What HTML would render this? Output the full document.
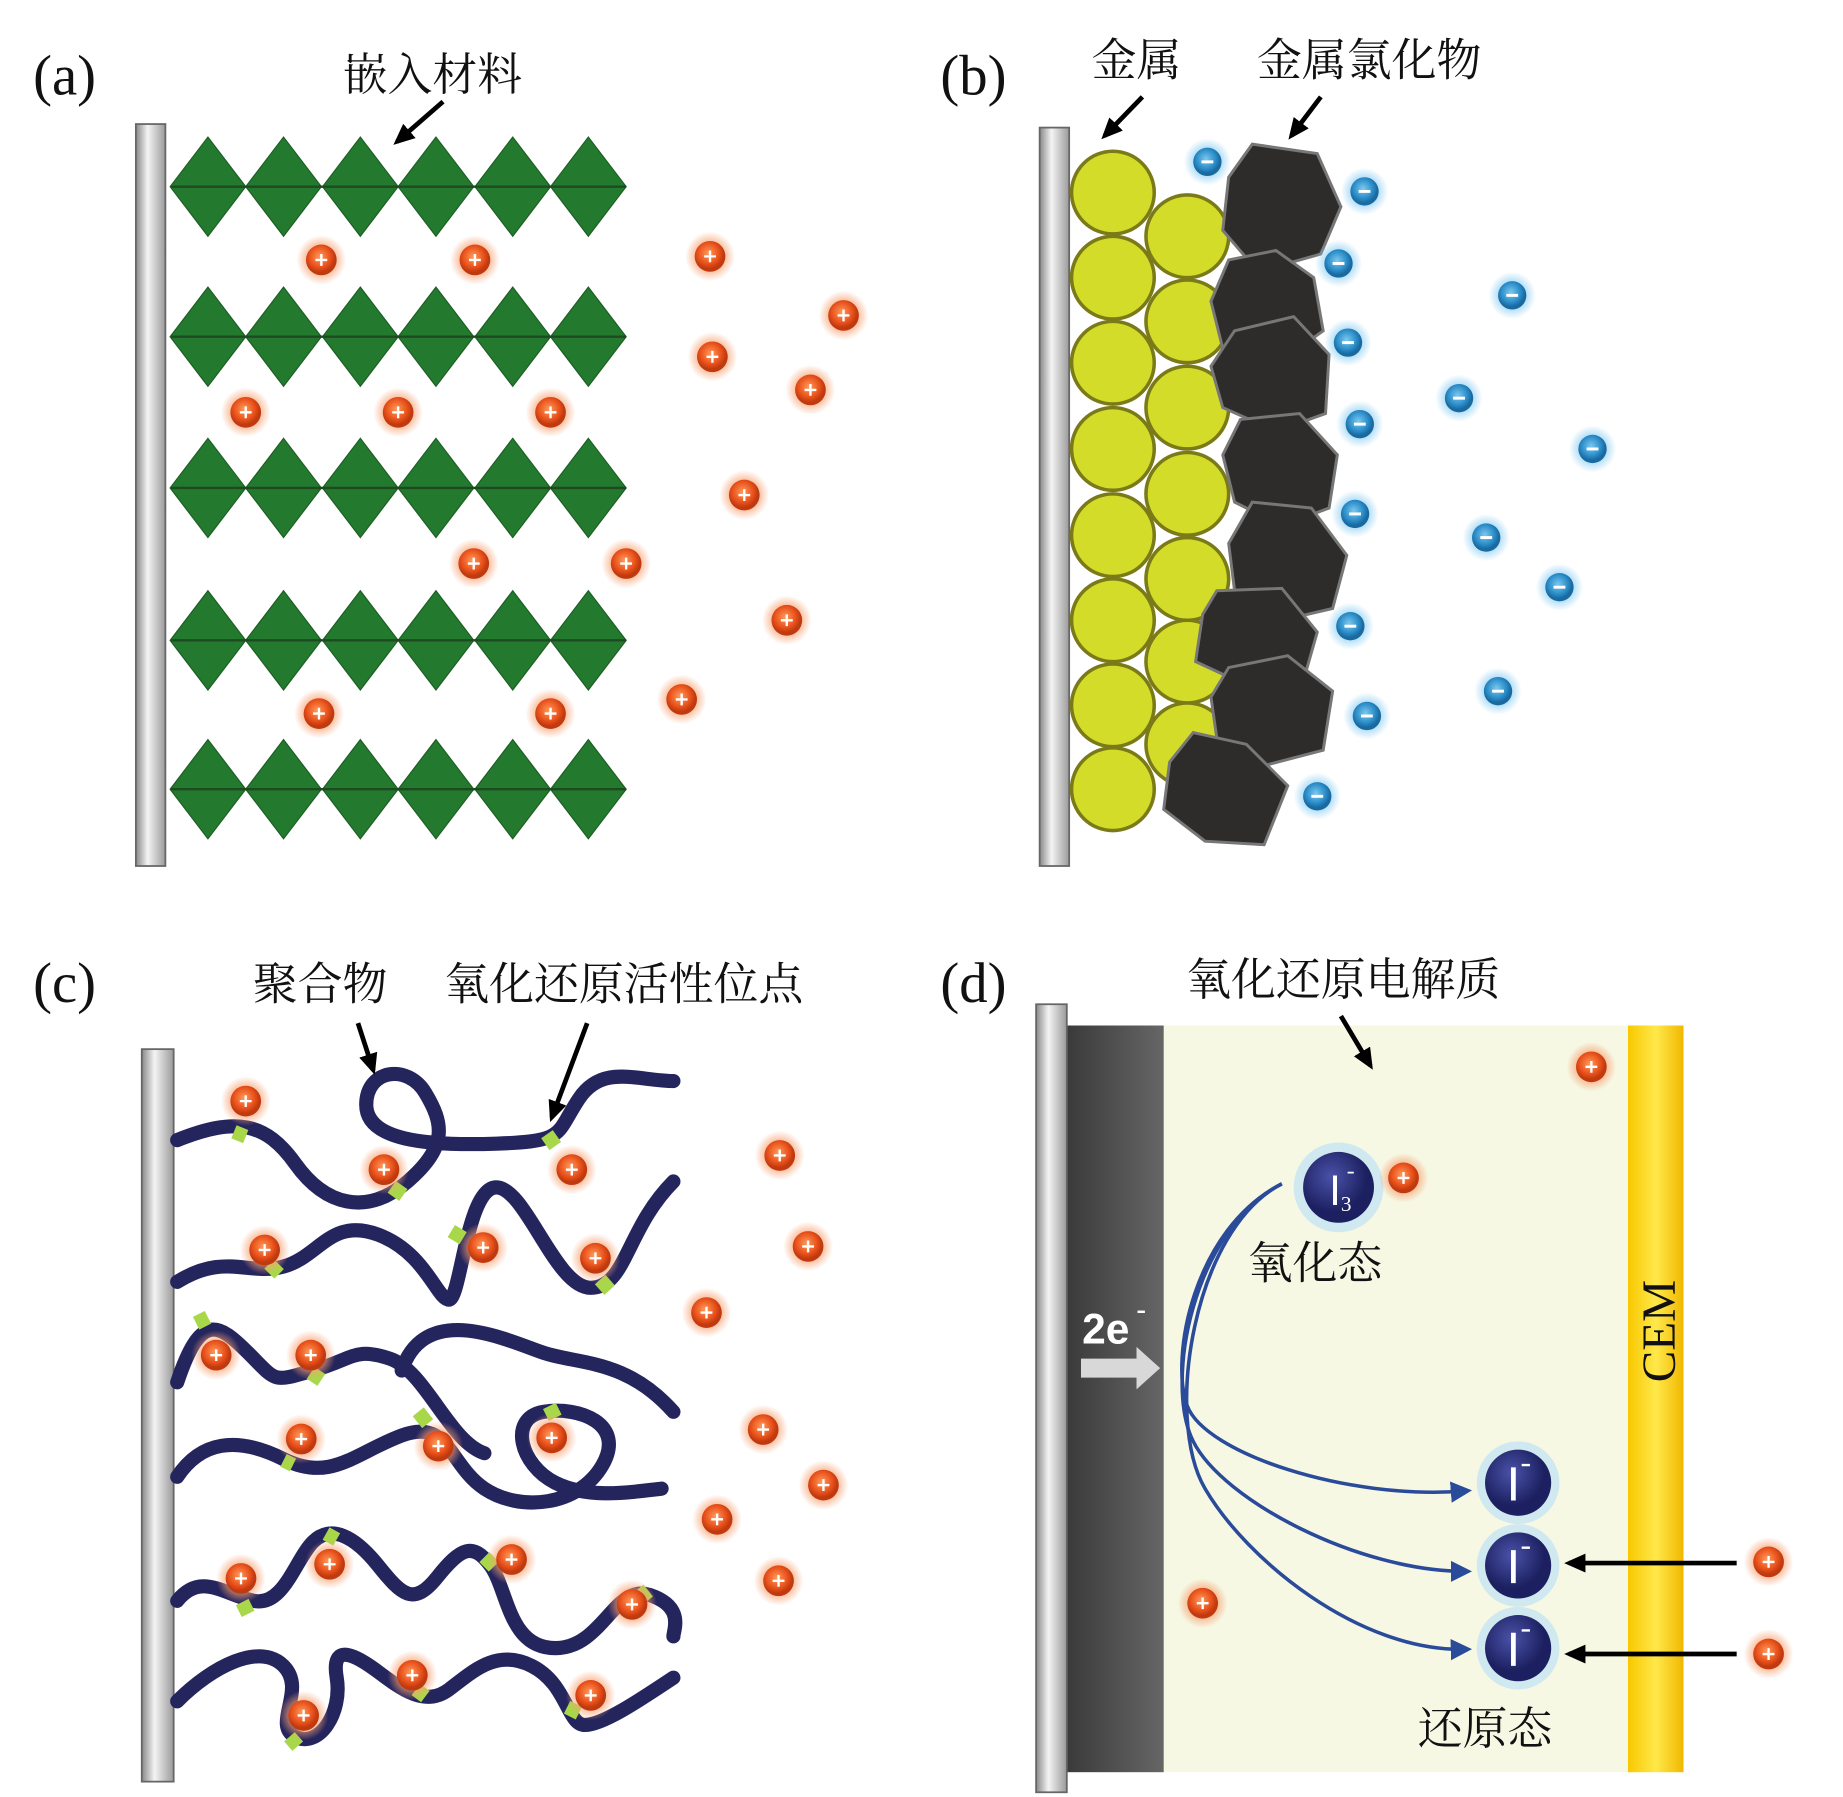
<!DOCTYPE html>
<html><head><meta charset="utf-8"><style>
html,body{margin:0;padding:0;background:#fff}
svg{display:block}
text{font-family:"Liberation Serif","Noto Serif CJK SC","Noto Sans CJK SC",serif}
</style></head><body>
<svg width="1843" height="1797" viewBox="0 0 1560 1521" preserveAspectRatio="none" xmlns="http://www.w3.org/2000/svg">
<defs>
<linearGradient id="bar" x1="0" x2="1"><stop offset="0" stop-color="#888"/><stop offset="0.4" stop-color="#f4f4f4"/><stop offset="1" stop-color="#9a9a9a"/></linearGradient>
<radialGradient id="cat" cx="0.45" cy="0.4"><stop offset="0" stop-color="#ff9a5a"/><stop offset="0.7" stop-color="#e8501a"/><stop offset="1" stop-color="#c03a10"/></radialGradient>
<radialGradient id="catg"><stop offset="0.5" stop-color="#f8a070" stop-opacity="0.8"/><stop offset="1" stop-color="#f8a070" stop-opacity="0"/></radialGradient>
<radialGradient id="an" cx="0.45" cy="0.4"><stop offset="0" stop-color="#7cc8ee"/><stop offset="0.7" stop-color="#2a8cc8"/><stop offset="1" stop-color="#1a6aa0"/></radialGradient>
<radialGradient id="ang"><stop offset="0.5" stop-color="#90d0f4" stop-opacity="0.8"/><stop offset="1" stop-color="#90d0f4" stop-opacity="0"/></radialGradient>
<radialGradient id="iod" cx="0.4" cy="0.35"><stop offset="0" stop-color="#4a52a8"/><stop offset="1" stop-color="#1c2060"/></radialGradient>
<linearGradient id="el" x1="0" x2="1"><stop offset="0" stop-color="#3a3a3a"/><stop offset="1" stop-color="#666"/></linearGradient>
<linearGradient id="cem" x1="0" x2="1"><stop offset="0" stop-color="#f8c800"/><stop offset="0.5" stop-color="#ffe84a"/><stop offset="1" stop-color="#f0b800"/></linearGradient>
<g id="c"><circle r="21" fill="url(#catg)"/><circle r="13" fill="url(#cat)"/><path d="M-5 0H5M0-5V5" stroke="#fff" stroke-width="2"/></g>
<g id="a"><circle r="20" fill="url(#ang)"/><circle r="12" fill="url(#an)"/><path d="M-5 0H5" stroke="#fff" stroke-width="2.5"/></g>
<g id="d"><path d="M-32 0L0-42L32 0L0 42Z" fill="#237a2e" stroke="#1d5e24" stroke-width="1"/></g>
<g id="row"><use href="#d" x="176"/><use href="#d" x="240"/><use href="#d" x="305"/><use href="#d" x="369"/><use href="#d" x="434"/><use href="#d" x="498"/><path d="M145 0H530" stroke="#1d4a20" stroke-width="2"/></g>
<marker id="ah" markerWidth="4.5" markerHeight="4" refX="3.5" refY="2" orient="auto" markerUnits="strokeWidth"><path d="M0,0L4.5,2L0,4Z" fill="#000"/></marker>
<marker id="bh" markerWidth="6" markerHeight="6" refX="4" refY="3" orient="auto" markerUnits="strokeWidth"><path d="M0,0L6,3L0,6Z" fill="#2a4a9a"/></marker>
</defs>

<g font-size="48" fill="#111">
<text x="28" y="80">(a)</text><text x="796" y="80">(b)</text>
<text x="28" y="848">(c)</text><text x="796" y="848">(d)</text>
</g>

<!-- (a) -->
<rect x="115" y="105" width="25" height="628" fill="url(#bar)" stroke="#666" stroke-width="1.5"/>
<use href="#row" y="158"/><use href="#row" y="285"/><use href="#row" y="413"/><use href="#row" y="542"/><use href="#row" y="668"/>
<g>
<use href="#c" x="272" y="220"/><use href="#c" x="402" y="220"/><use href="#c" x="601" y="217"/><use href="#c" x="714" y="267"/><use href="#c" x="603" y="302"/><use href="#c" x="686" y="330"/><use href="#c" x="208" y="349"/><use href="#c" x="337" y="349"/><use href="#c" x="466" y="349"/><use href="#c" x="630" y="419"/><use href="#c" x="401" y="477"/><use href="#c" x="530" y="477"/><use href="#c" x="666" y="525"/><use href="#c" x="577" y="592"/><use href="#c" x="270" y="604"/><use href="#c" x="466" y="604"/>
</g>

<!-- (b) -->
<rect x="880" y="108" width="25" height="625" fill="url(#bar)" stroke="#666" stroke-width="1.5"/>
<g fill="#d4dc2a" stroke="#7a7a18" stroke-width="3">
<circle cx="1005" cy="200" r="35"/><circle cx="1005" cy="272" r="35"/><circle cx="1005" cy="345" r="35"/><circle cx="1005" cy="418" r="35"/><circle cx="1005" cy="490" r="35"/><circle cx="1005" cy="560" r="35"/><circle cx="1005" cy="630" r="35"/>
<circle cx="942" cy="163" r="35"/><circle cx="942" cy="235" r="35"/><circle cx="942" cy="307" r="35"/><circle cx="942" cy="380" r="35"/><circle cx="942" cy="453" r="35"/><circle cx="942" cy="525" r="35"/><circle cx="942" cy="597" r="35"/><circle cx="942" cy="668" r="35"/>
</g>
<g fill="#2e2b2b" stroke="#777" stroke-width="2.5">
<path d="M1060 122L1115 130L1135 175L1118 215L1065 230L1035 195L1040 150Z"/>
<path d="M1040 220L1080 212L1112 235L1120 280L1085 305L1035 295L1025 255Z"/>
<path d="M1045 280L1095 268L1125 300L1122 350L1080 365L1035 345L1025 310Z"/>
<path d="M1050 355L1100 350L1132 385L1125 430L1085 445L1045 425L1035 385Z"/>
<path d="M1060 425L1110 430L1140 470L1128 515L1085 525L1045 500L1040 460Z"/>
<path d="M1030 500L1085 498L1115 535L1105 570L1055 580L1012 560L1018 520Z"/>
<path d="M1040 565L1090 555L1128 585L1120 635L1070 648L1030 625L1025 590Z"/>
<path d="M1010 620L1055 630L1090 665L1070 715L1020 712L985 685L990 645Z"/>
</g>
<g>
<use href="#a" x="1022" y="137"/><use href="#a" x="1155" y="162"/><use href="#a" x="1133" y="223"/><use href="#a" x="1141" y="290"/><use href="#a" x="1280" y="250"/><use href="#a" x="1151" y="359"/><use href="#a" x="1235" y="337"/><use href="#a" x="1348" y="380"/><use href="#a" x="1147" y="435"/><use href="#a" x="1258" y="455"/><use href="#a" x="1320" y="497"/><use href="#a" x="1143" y="530"/><use href="#a" x="1157" y="606"/><use href="#a" x="1268" y="585"/><use href="#a" x="1115" y="674"/>
</g>

<!-- (c) -->
<rect x="120" y="888" width="27" height="620" fill="url(#bar)" stroke="#666" stroke-width="1.5"/>
<g fill="none" stroke="#25255e" stroke-width="12" stroke-linecap="round">
<path d="M150 965C200 945 225 950 250 985S310 1030 345 1000S375 950 360 925S310 905 310 935S360 970 420 968S470 960 490 930S540 915 570 915"/>
<path d="M150 1085C190 1060 210 1080 240 1072S280 1030 320 1045S370 1100 380 1100S395 1005 420 1005S470 1090 500 1090S530 1040 570 1000"/>
<path d="M150 1170C170 1110 185 1120 210 1145S230 1170 265 1160S300 1140 330 1150S380 1220 410 1230"/>
<path d="M340 1160C360 1100 430 1135 460 1145S530 1150 570 1195"/>
<path d="M150 1250C170 1220 200 1215 240 1235S300 1230 340 1215S380 1240 410 1260S490 1275 510 1240S490 1190 460 1195S440 1240 470 1255S540 1262 560 1260"/>
<path d="M150 1355C170 1330 190 1350 215 1355S250 1320 265 1305S300 1300 320 1325S350 1360 370 1335S400 1305 415 1325S430 1395 470 1395S520 1340 550 1350S570 1380 570 1385"/>
<path d="M150 1440C180 1410 220 1390 240 1410S230 1460 250 1470S290 1450 285 1420S300 1400 320 1415S360 1445 380 1430S420 1395 450 1410S480 1460 495 1460S540 1440 570 1420"/>
</g>
<g stroke="#a8d84a" stroke-width="12">
<path d="M198 958L208 962"/><path d="M333 1013L340 1003"/><path d="M463 960L470 970"/><path d="M228 1078L236 1070"/><path d="M382 1042L392 1048"/><path d="M508 1083L516 1092"/><path d="M166 1120L176 1115"/><path d="M263 1162L272 1168"/><path d="M354 1195L362 1205"/><path d="M465 1190L470 1200"/><path d="M240 1236L248 1240"/><path d="M410 1318L418 1326"/><path d="M205 1356L210 1366"/><path d="M276 1298L285 1303"/><path d="M540 1345L548 1355"/><path d="M245 1470L252 1478"/><path d="M352 1430L360 1436"/><path d="M480 1445L490 1450"/>
</g>
<g>
<use href="#c" x="208" y="932"/><use href="#c" x="325" y="990"/><use href="#c" x="484" y="990"/><use href="#c" x="660" y="978"/><use href="#c" x="224" y="1058"/><use href="#c" x="409" y="1056"/><use href="#c" x="504" y="1065"/><use href="#c" x="684" y="1055"/><use href="#c" x="598" y="1111"/><use href="#c" x="183" y="1147"/><use href="#c" x="263" y="1147"/><use href="#c" x="255" y="1218"/><use href="#c" x="371" y="1224"/><use href="#c" x="467" y="1217"/><use href="#c" x="646" y="1210"/><use href="#c" x="697" y="1257"/><use href="#c" x="607" y="1286"/><use href="#c" x="204" y="1336"/><use href="#c" x="279" y="1324"/><use href="#c" x="433" y="1320"/><use href="#c" x="535" y="1358"/><use href="#c" x="659" y="1338"/><use href="#c" x="349" y="1418"/><use href="#c" x="257" y="1452"/><use href="#c" x="500" y="1435"/>
</g>

<!-- (d) -->
<rect x="985" y="868" width="395" height="632" fill="#f6f8e4"/>
<rect x="903" y="868" width="82" height="632" fill="url(#el)"/>
<rect x="877" y="850" width="26" height="667" fill="url(#bar)" stroke="#666" stroke-width="1.5"/>
<rect x="1378" y="868" width="47" height="632" fill="url(#cem)"/>
<text x="0" y="0" font-size="40" fill="#111" transform="translate(1418 1170) rotate(-90)">CEM</text>
<text x="916" y="1137" font-weight="bold" font-size="36" fill="#fff" style="font-family:'Liberation Sans',sans-serif">2e</text>
<text x="962" y="1116" font-size="24" fill="#fff" font-weight="bold">-</text>
<path d="M915 1150H962V1140L982 1158L962 1176V1166H915Z" fill="#d8d8d8"/>
<g fill="none" stroke="#2a4a9a" stroke-width="3" marker-end="url(#bh)">
<path d="M1085 1002C1010 1040 990 1150 1005 1190S1140 1270 1240 1262"/>
<path d="M1085 1002C1010 1040 985 1170 1010 1220S1150 1330 1240 1330"/>
<path d="M1085 1002C1010 1040 985 1200 1020 1260S1150 1398 1240 1396"/>
</g>
<circle cx="1133" cy="1005" r="38" fill="#b8e0f8" opacity="0.6"/>
<circle cx="1133" cy="1005" r="30" fill="url(#iod)"/>
<text x="1125" y="1020" font-size="36" fill="#fff" style="font-family:'Liberation Sans',sans-serif">I</text>
<text x="1135" y="1025" font-size="18" fill="#fff">3</text><text x="1140" y="997" font-size="20" fill="#fff">-</text>
<use href="#c" x="1188" y="997"/>
<g>
<circle cx="1285" cy="1255" r="35" fill="#b8e0f8" opacity="0.6"/><circle cx="1285" cy="1255" r="28" fill="url(#iod)"/>
<circle cx="1285" cy="1325" r="35" fill="#b8e0f8" opacity="0.6"/><circle cx="1285" cy="1325" r="28" fill="url(#iod)"/>
<circle cx="1285" cy="1395" r="35" fill="#b8e0f8" opacity="0.6"/><circle cx="1285" cy="1395" r="28" fill="url(#iod)"/>
<g stroke="#fff" stroke-width="4"><path d="M1281 1242V1270M1281 1312V1340M1281 1382V1410"/></g>
<g stroke="#fff" stroke-width="2"><path d="M1288 1240H1295M1288 1310H1295M1288 1380H1295"/></g>
</g>
<use href="#c" x="1497" y="1322"/><use href="#c" x="1497" y="1400"/><use href="#c" x="1347" y="903"/><use href="#c" x="1018" y="1357"/>

<!-- labels & arrows on top -->
<g font-size="38" fill="#111">
<text x="290" y="76">嵌入材料</text>
<text x="924" y="64">金属</text>
<text x="1064" y="64">金属氯化物</text>
<text x="214" y="846">聚合物</text>
<text x="376" y="846">氧化还原活性位点</text>
<text x="1004" y="842">氧化还原电解质</text>
<text x="1056" y="1082">氧化态</text>
<text x="1200" y="1476">还原态</text>
</g>
<g stroke="#000" stroke-width="4" marker-end="url(#ah)" fill="none">
<line x1="375" y1="86" x2="336" y2="120"/>
<line x1="967" y1="82" x2="935" y2="115"/>
<line x1="1118" y1="82" x2="1093" y2="115"/>
<line x1="303" y1="866" x2="316" y2="906"/>
<line x1="497" y1="866" x2="467" y2="946"/>
<line x1="1135" y1="860" x2="1160" y2="902"/>
<line x1="1470" y1="1323" x2="1328" y2="1323"/>
<line x1="1470" y1="1400" x2="1328" y2="1400"/>
</g>
</svg>
</body></html>
